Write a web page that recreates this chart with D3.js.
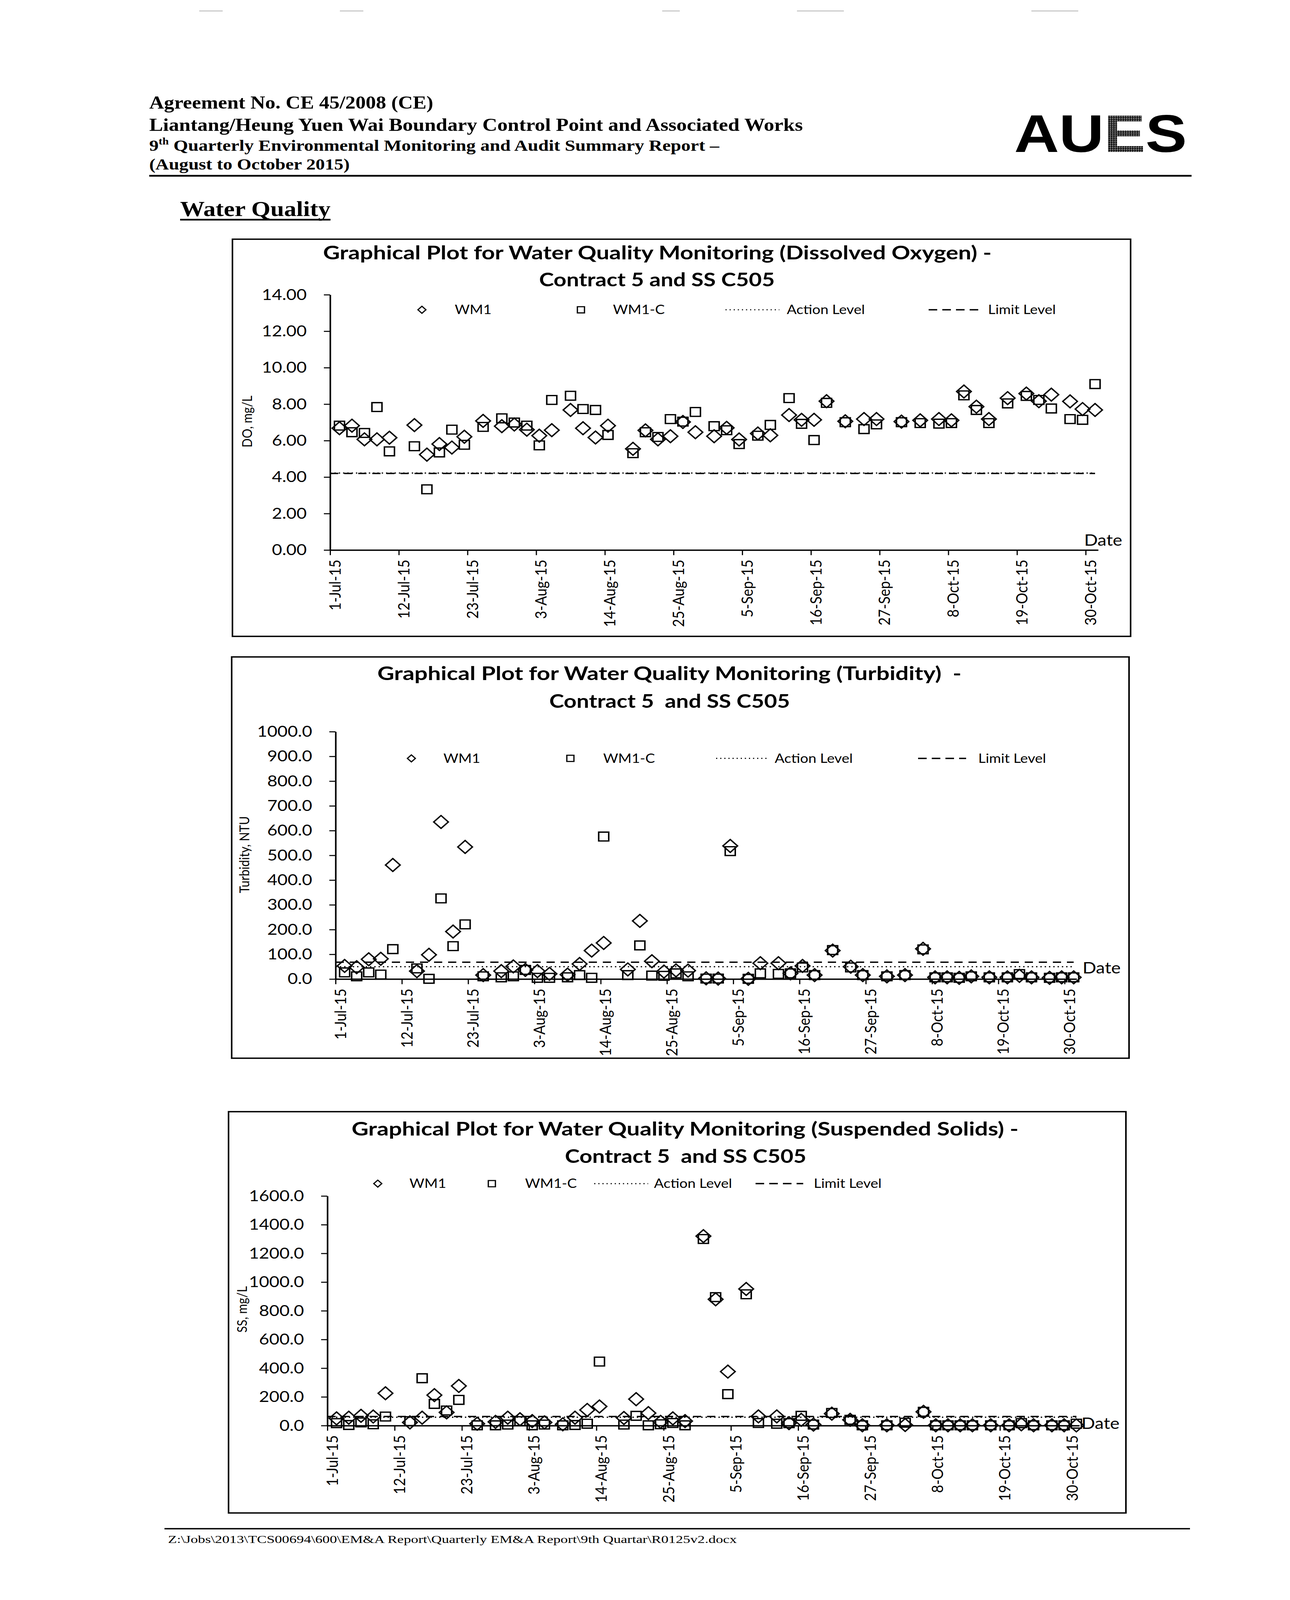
<!DOCTYPE html>
<html><head><meta charset="utf-8">
<script src="https://cdn.jsdelivr.net/npm/d3@7"></script>
<style>
html,body{margin:0;padding:0;background:#fff;overflow:hidden;}
svg{display:block;}
</style></head><body>
<svg id="page" viewBox="0 0 3302 4669" preserveAspectRatio="none"></svg>
<script>
// ---------------- DATA ----------------
const sampleDates = [
 "2015-07-02 12:00","2015-07-04 12:00","2015-07-06 12:00","2015-07-08 12:00","2015-07-10 12:00",
 "2015-07-14 12:00","2015-07-16 12:00","2015-07-18 12:00","2015-07-20 12:00","2015-07-22 12:00",
 "2015-07-25 12:00","2015-07-28 12:00","2015-07-30 12:00","2015-08-01 12:00","2015-08-03 12:00",
 "2015-08-05 12:00","2015-08-08 12:00","2015-08-10 12:00","2015-08-12 12:00","2015-08-14 12:00",
 "2015-08-18 12:00","2015-08-20 12:00","2015-08-22 12:00","2015-08-24 12:00","2015-08-26 12:00",
 "2015-08-28 12:00","2015-08-31 12:00","2015-09-02 12:00","2015-09-04 12:00","2015-09-07 12:00",
 "2015-09-09 12:00","2015-09-12 12:00","2015-09-14 12:00","2015-09-16 12:00","2015-09-18 12:00",
 "2015-09-21 12:00","2015-09-24 12:00","2015-09-26 12:00","2015-09-30 12:00","2015-10-03 12:00",
 "2015-10-06 12:00","2015-10-08 12:00","2015-10-10 12:00","2015-10-12 12:00","2015-10-14 12:00",
 "2015-10-17 12:00","2015-10-20 12:00","2015-10-22 12:00","2015-10-24 12:00","2015-10-27 12:00",
 "2015-10-29 12:00","2015-10-31 12:00"];

const doWM1 = [6.68,6.82,6.07,6.07,6.16, 6.85,5.23,5.81,5.62,6.21, 7.08,6.79,6.88,6.60,6.27,
 6.57,7.68,6.68,6.17,6.82, 5.55,6.56,6.07,6.24,7.02, 6.46,6.24,6.70,6.06,6.39,
 6.29,7.40,7.14,7.14,8.16, 7.06,7.18,7.18,7.04,7.11, 7.18,7.11,8.69,7.86,7.18,
 8.33,8.58,8.16,8.52,8.15, 7.73,7.68];
const doWM1C = [6.82,6.46,6.42,7.84,5.41, 5.69,3.33,5.35,6.60,5.77, 6.75,7.22,6.99,6.82,5.74,
 8.23,8.46,7.73,7.68,6.31, 5.31,6.46,6.20,7.18,7.04, 7.57,6.79,6.57,5.81,6.27,
 6.86,8.33,6.92,6.03,8.07, 7.01,6.63,6.89,7.01,6.96, 6.93,6.96,8.48,7.68,6.96,
 8.04,8.45,8.23,7.76,7.18, 7.14,9.10];

const turbWM1 = [53,48,80,82,461, 32,98,635,192,534, 16,32,51,37,32, 21,18,61,115,146,
 39,235,72,30,35, 34,3,2,538,1, 64,64,23,53,16, 115,50,16,11,16, 122,7,7,5,11, 7,7,13,7,5, 7,7];
const turbWM1C = [27,11,27,18,121, 43,1,326,133,221, 11,7,11,37,5, 5,7,16,5,576,
 16,136,14,13,23, 11,2,2,517,1, 23,21,23,47,16, 117,47,16,11,16, 120,7,7,5,11, 7,7,20,7,5, 7,7];

const ssWM1 = [50,55,68,63,225, 22,55,212,92,276, 13,26,55,44,31, 22,9,55,109,133,
 53,184,87,26,50, 31,1320,880,376,952, 64,64,17,40,7, 83,40,2,2,4, 96,2,2,2,2, 2,2,9,2,2, 2,1];
const ssWM1C = [17,4,22,9,63, 31,330,151,105,179, 2,2,7,31,2, 7,2,4,13,446,
 7,68,2,9,18, 2,1300,895,219,915, 18,13,17,68,7, 88,40,2,2,20, 96,2,2,2,2, 2,2,17,2,2, 2,13];

const doLevels   = {action: 4.22, limit: 4.20};
const turbLevels = {action: 50,   limit: 68};
const ssLevels   = {action: 58,   limit: 63};

const tickLabels = ["1-Jul-15","12-Jul-15","23-Jul-15","3-Aug-15","14-Aug-15","25-Aug-15",
 "5-Sep-15","16-Sep-15","27-Sep-15","8-Oct-15","19-Oct-15","30-Oct-15"];
const axisStart = "1-Jul-15", axisEnd = "1-Nov-15";

const doTicks = [0,2,4,6,8,10,12,14];
const turbTicks = [0,100,200,300,400,500,600,700,800,900,1000];
const ssTicks = [0,200,400,600,800,1000,1200,1400,1600];

const seriesNames = ["WM1","WM1-C"];
const levelNames = ["Action Level","Limit Level"];

// ---------------- DRAW ----------------
const vw = window.innerWidth > 0 ? window.innerWidth : 3302;
const vh = window.innerHeight > 0 ? window.innerHeight : 4669;
const svg = d3.select("#page").attr("width", vw).attr("height", vh);
svg.append("rect").attr("width",3302).attr("height",4669).attr("fill","#fff");
const defs = svg.append("defs");
const pat = defs.append("pattern").attr("id","ht").attr("width",6).attr("height",6).attr("patternUnits","userSpaceOnUse");
pat.append("rect").attr("width",6).attr("height",6).attr("fill","#444");
pat.append("rect").attr("width",3).attr("height",3).attr("fill","#000");
pat.append("rect").attr("x",3).attr("y",3).attr("width",2).attr("height",2).attr("fill","#bbb");

// faint scan marks at the top edge of the page
[[510,570],[870,930],[1695,1740],[2040,2160],[2640,2760]].forEach(s =>
  svg.append("line").attr("x1",s[0]).attr("x2",s[1]).attr("y1",32).attr("y2",32).attr("stroke","#aaa").attr("stroke-width",2));

const parseDT = d3.timeParse("%Y-%m-%d %H:%M");
const parseTick = d3.timeParse("%d-%b-%y");
const fmtTick = d3.timeFormat("%-d-%b-%y");
const dates = sampleDates.map(parseDT);
const tickDates = tickLabels.map(parseTick);
const serif = "'Liberation Serif','Times New Roman',serif";
const sans = "Lato, 'Open Sans', sans-serif";

// header
function hText(x,y,size,len,txt){
  return svg.append("text").attr("x",x).attr("y",y).attr("font-family",serif).attr("font-weight",700)
    .attr("font-size",size).attr("textLength",len).attr("lengthAdjust","spacingAndGlyphs").text(txt);
}
hText(382,317,52,727,"Agreement No. CE 45/2008 (CE)");
hText(382,382,52,1673,"Liantang/Heung Yuen Wai Boundary Control Point and Associated Works");
const l3 = svg.append("text").attr("x",382).attr("y",440).attr("font-family",serif).attr("font-weight",700)
  .attr("font-size",46).attr("textLength",1459).attr("lengthAdjust","spacingAndGlyphs");
l3.append("tspan").text("9");
l3.append("tspan").attr("font-size",28).attr("dy",-18).text("th");
l3.append("tspan").attr("dy",18).text(" Quarterly Environmental Monitoring and Audit Summary Report \u2013");
hText(382,495,46,513,"(August to October 2015)");
svg.append("line").attr("x1",382).attr("x2",3050).attr("y1",513).attr("y2",513).attr("stroke","#000").attr("stroke-width",5);
const logo = svg.append("text").attr("x",2596).attr("y",443).attr("font-family","'Liberation Sans',Arial,sans-serif")
  .attr("font-weight",700).attr("font-size",154).attr("textLength",442).attr("lengthAdjust","spacingAndGlyphs");
logo.append("tspan").text("AU");
logo.append("tspan").attr("fill","url(#ht)").text("E");
logo.append("tspan").text("S");
hText(461,630,62,385,"Water Quality");
svg.append("line").attr("x1",461).attr("x2",846).attr("y1",641).attr("y2",641).attr("stroke","#000").attr("stroke-width",5);

// footer
svg.append("line").attr("x1",421).attr("x2",3046).attr("y1",4461).attr("y2",4461).attr("stroke","#000").attr("stroke-width",4);
svg.append("text").attr("x",430).attr("y",4503).attr("font-family",serif).attr("font-size",31)
  .attr("textLength",1456).attr("lengthAdjust","spacingAndGlyphs")
  .text("Z:\\Jobs\\2013\\TCS00694\\600\\EM&A Report\\Quarterly EM&A Report\\9th Quartar\\R0125v2.docx");

function drawChart(c){
  const g = svg.append("g");
  g.append("rect").attr("x",c.box[0]).attr("y",c.box[1]).attr("width",c.box[2]-c.box[0]).attr("height",c.box[3]-c.box[1])
    .attr("fill","none").attr("stroke","#000").attr("stroke-width",4);
  const x = d3.scaleTime().domain([parseTick(axisStart), parseTick(axisEnd)]).range(c.xRange);
  const y = d3.scaleLinear().domain([c.yTicks[0], c.yTicks[c.yTicks.length-1]]).range(c.yRange);

  c.titles.forEach(t => g.append("text").attr("x",t[0]).attr("y",t[1]).attr("textLength",t[2]).attr("lengthAdjust","spacingAndGlyphs")
    .attr("font-family",sans).attr("font-weight",700).attr("font-size",54).attr("xml:space","preserve").text(t[3]));

  const ya = g.append("g").attr("transform",`translate(${c.xRange[0]},0)`)
    .call(d3.axisLeft(y).tickValues(c.yTicks).tickFormat(d3.format(c.yFmt)).tickSize(16).tickSizeOuter(0).tickPadding(44));
  ya.attr("font-family",sans).attr("font-size",45);
  ya.select(".domain").attr("stroke-width",4);
  ya.selectAll(".tick line").attr("stroke-width",3);
  ya.selectAll(".tick text").attr("fill","#000");

  const xa = g.append("g").attr("transform",`translate(0,${y(0)})`)
    .call(d3.axisBottom(x).tickValues(tickDates).tickFormat(fmtTick).tickSize(15).tickSizeOuter(0));
  xa.attr("font-family",sans).attr("font-size",41);
  xa.select(".domain").attr("stroke-width",4);
  xa.selectAll(".tick line").attr("stroke-width",3);
  xa.selectAll(".tick text").attr("transform","rotate(-90)").attr("x",-28).attr("y",0)
    .attr("dy",(41*0.35+12)+"px").attr("text-anchor","end").attr("fill","#000");

  g.append("text").attr("transform",`translate(${c.yLabelPos[0]},${c.yLabelPos[1]}) rotate(-90)`)
    .attr("text-anchor","middle").attr("dy","0.35em").attr("font-family",sans).attr("font-size",35).text(c.yLabel);
  g.append("text").attr("x",c.datePos[0]).attr("y",c.datePos[1]).attr("font-family",sans).attr("font-size",46).text("Date");

  const span = [parseTick(axisStart), dates[dates.length-1]];
  const ln = d3.line().x(d=>x(d[0])).y(d=>y(d[1]));
  g.append("path").attr("d",ln(span.map(d=>[d,c.levels.action]))).attr("fill","none").attr("stroke","#000")
    .attr("stroke-width",3.5).attr("stroke-dasharray","3.5,7.5");
  g.append("path").attr("d",ln(span.map(d=>[d,c.levels.limit]))).attr("fill","none").attr("stroke","#000")
    .attr("stroke-width",4).attr("stroke-dasharray","21,15");

  const pts1 = dates.map((d,i)=>({d, v:c.s1[i]}));
  const pts2 = dates.map((d,i)=>({d, v:c.s2[i]}));
  g.append("g").selectAll("path").data(pts1).join("path")
    .attr("d",d3.symbol(d3.symbolSquare,700)())
    .attr("transform",p=>`translate(${x(p.d)},${y(p.v)}) rotate(45)`)
    .attr("fill","none").attr("stroke","#000").attr("stroke-width",3.8);
  g.append("g").selectAll("path").data(pts2).join("path")
    .attr("d",d3.symbol(d3.symbolSquare,660)())
    .attr("transform",p=>`translate(${x(p.d)},${y(p.v)})`)
    .attr("fill","none").attr("stroke","#000").attr("stroke-width",3.8);

  const L = c.legend, ly = L.y;
  g.append("path").attr("d",d3.symbol(d3.symbolSquare,210)()).attr("transform",`translate(${L.m1},${ly}) rotate(45)`)
    .attr("fill","none").attr("stroke","#000").attr("stroke-width",3.2);
  g.append("path").attr("d",d3.symbol(d3.symbolSquare,330)()).attr("transform",`translate(${L.m2},${ly})`)
    .attr("fill","none").attr("stroke","#000").attr("stroke-width",3.2);
  g.append("line").attr("x1",L.a[0]).attr("x2",L.a[1]).attr("y1",ly).attr("y2",ly).attr("stroke","#000")
    .attr("stroke-width",3).attr("stroke-dasharray","3,7.5");
  g.append("line").attr("x1",L.l[0]).attr("x2",L.l[1]).attr("y1",ly).attr("y2",ly).attr("stroke","#000")
    .attr("stroke-width",4).attr("stroke-dasharray","22,13");
  const labs = [[L.t1,seriesNames[0]],[L.t2,seriesNames[1]],[L.t3,levelNames[0]],[L.t4,levelNames[1]]];
  labs.forEach(t => g.append("text").attr("x",t[0]).attr("y",ly).attr("dy","0.35em").attr("font-family",sans)
    .attr("font-size",37).text(t[1]));
}

drawChart({
  box:[595,698,2894,1857], xRange:[845,2811], yRange:[1605,860], yTicks:doTicks, yFmt:".2f",
  titles:[[827,757,1711,"Graphical Plot for Water Quality Monitoring (Dissolved Oxygen) -"],[1380,835,603,"Contract 5 and SS C505"]],
  yLabel:"DO, mg/L", yLabelPos:[633,1230], datePos:[2775,1593],
  levels:doLevels, s1:doWM1, s2:doWM1C,
  legend:{y:904,m1:1080,t1:1164,m2:1487,t2:1569,a:[1857,1995],t3:2014,l:[2377,2504],t4:2529}
});
drawChart({
  box:[593,1917,2890,3088], xRange:[859,2756], yRange:[2857,2135], yTicks:turbTicks, yFmt:".1f",
  titles:[[966,1985,1495,"Graphical Plot for Water Quality Monitoring (Turbidity)  -"],[1406,2066,616,"Contract 5  and SS C505"]],
  yLabel:"Turbidity, NTU", yLabelPos:[626,2494], datePos:[2771,2841],
  levels:turbLevels, s1:turbWM1, s2:turbWM1C,
  legend:{y:2213,m1:1053,t1:1135,m2:1460,t2:1544,a:[1833,1968],t3:1983,l:[2350,2473],t4:2504}
});
drawChart({
  box:[585,3244,2882,4415], xRange:[838,2763], yRange:[4160,3490], yTicks:ssTicks, yFmt:".1f",
  titles:[[900,3314,1707,"Graphical Plot for Water Quality Monitoring (Suspended Solids) -"],[1446,3394,618,"Contract 5  and SS C505"]],
  yLabel:"SS, mg/L", yLabelPos:[620,3821], datePos:[2768,4170],
  levels:ssLevels, s1:ssWM1, s2:ssWM1C,
  legend:{y:3454,m1:967,t1:1048,m2:1259,t2:1344,a:[1521,1659],t3:1674,l:[1934,2056],t4:2083}
});
</script>
</body></html>
